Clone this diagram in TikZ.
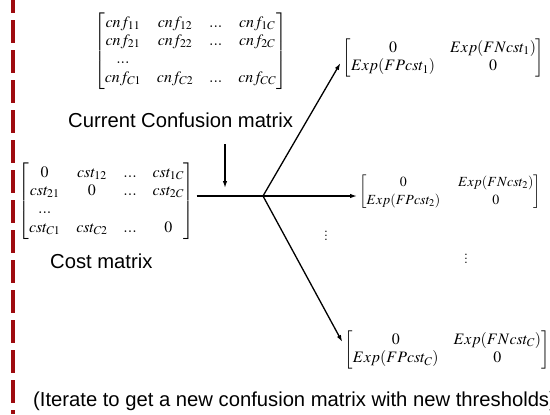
\documentclass[tikz,border=0pt]{standalone}
\usepackage{amsmath}
\usepackage{mathptmx}
\usepackage[no-math]{fontspec}
\setmainfont{Liberation Sans}
\usetikzlibrary{arrows.meta}
\definecolor{cutRed}{HTML}{9E0B0F}
\setlength{\arraycolsep}{8pt}
\renewcommand{\arraystretch}{0.97}

\begin{document}
\begin{tikzpicture}[x=1bp,y=-1bp,
  mat/.style={inner sep=2bp,font=\fontsize{16}{19}\selectfont},
  smallmat/.style={inner sep=2bp,font=\fontsize{14}{18}\selectfont},
  lbl/.style={inner sep=0pt,anchor=base west,font=\fontsize{20.3}{24}\selectfont},
  flow/.style={line width=1.3bp},
  flowarr/.style={flow,-{Latex[length=7bp,width=4.5bp]}}]
\useasboundingbox (0,0) rectangle (550,414);
\draw[cutRed,line width=4.5bp,dash pattern=on 23bp off 7bp,dash phase=10bp] (13,0) -- (13,414);

% input matrices
\node[mat] (conf) at (190.5,51) {$\begin{bmatrix}
  cnf_{11} & cnf_{12} & ... & cnf_{1C}\\
  cnf_{21} & cnf_{22} & ... & cnf_{2C}\\
  ... & & & \\
  cnf_{C1} & cnf_{C2} & ... & cnf_{CC}
\end{bmatrix}$};
\node[lbl] (conflbl) at (68,127) {Current Confusion matrix};
\node[mat] (cost) at (106.5,201) {$\begin{bmatrix}
  0 & cst_{12} & ... & cst_{1C}\\
  cst_{21} & 0 & ... & cst_{2C}\\
  ... & & & \\
  cst_{C1} & cst_{C2} & ... & 0
\end{bmatrix}$};
\node[lbl] (costlbl) at (50,268) {Cost matrix};

% one binary cost matrix per class
{\setlength{\arraycolsep}{7.5pt}
\node[mat] (m1) at (443.5,58) {$\begin{bmatrix}
  0 & Exp(FNcst_1)\\
  Exp(FPcst_1) & 0
\end{bmatrix}$};
\node[smallmat] (m2) at (450,192) {\setlength{\arraycolsep}{9pt}$\begin{bmatrix}
  0 & Exp(FNcst_2)\\
  Exp(FPcst_2) & 0
\end{bmatrix}$};
\node[mat] (m3) at (447,350) {$\begin{bmatrix}
  0 & Exp(FNcst_C)\\
  Exp(FPcst_C) & 0
\end{bmatrix}$};
}
\node[font=\fontsize{12}{12}\selectfont] (dots1) at (326,233) {$\vdots$};
\node[font=\fontsize{12}{12}\selectfont] (dots2) at (466,256) {$\vdots$};

\node[lbl] (iterlbl) at (33,406) {(Iterate to get a new confusion matrix with new thresholds)};

% connectors
\coordinate (cin) at (225,144);
\coordinate (cout) at (225,188);
\coordinate (junc) at (263,196);
\draw[flowarr] (cin) -- (cout);
\draw[flow] (cost.east |- junc) -- (junc);
\draw[flowarr] (junc) -- ([yshift=-5bp]m1.west);
\draw[flowarr] (junc) -- (m2.west |- junc);
\draw[flowarr] (junc) -- ([yshift=8bp]m3.west);
\end{tikzpicture}
\end{document}
